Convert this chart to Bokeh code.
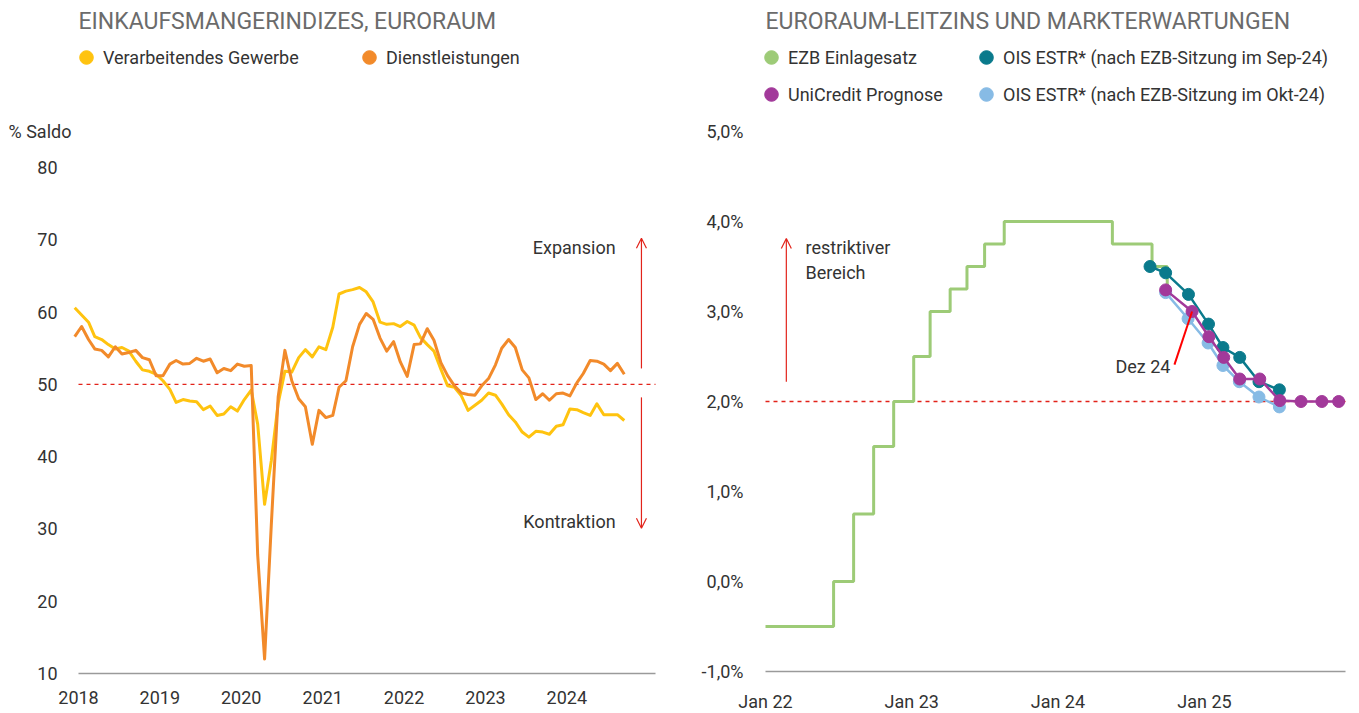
import pandas as pd
from bokeh.plotting import figure
from bokeh.models import (Range1d, FixedTicker, DatetimeTickFormatter, Legend, LegendItem,
                          Label, Arrow, OpenHead)
from bokeh.layouts import row
from bokeh.embed import file_html
from bokeh.resources import INLINE

FONT = "Roboto"
TXT = "#333333"
TITLE_C = "#6b6b6b"
RED = "#E2231A"
YELLOW = "#FFC30F"
ORANGE = "#F28A2A"
GREEN = "#9DCB77"
TEAL = "#0A7A8C"
PURPLE = "#A2399A"
LIGHTBLUE = "#87BBE5"
AXIS_C = "#9a9a9a"

# ---------------- left chart data (monthly PMI, Dec 2017 - Sep 2024) ----------------
pmi_dates = list(pd.date_range("2017-12-01", "2024-09-01", freq="MS") + pd.Timedelta(days=14))
manufacturing = [60.6,
                 59.6, 58.6, 56.6, 56.2, 55.5, 54.9, 55.1, 54.6, 53.2, 52.0, 51.8, 51.4,
                 50.5, 49.3, 47.5, 47.9, 47.7, 47.6, 46.5, 47.0, 45.7, 45.9, 46.9, 46.3,
                 47.9, 49.2, 44.5, 33.4, 39.4, 47.4, 51.8, 51.7, 53.7, 54.8, 53.8, 55.2,
                 54.8, 57.9, 62.5, 62.9, 63.1, 63.4, 62.8, 61.4, 58.6, 58.3, 58.4, 58.0,
                 58.7, 58.2, 56.5, 55.5, 54.6, 52.1, 49.8, 49.6, 48.4, 46.4, 47.1, 47.8,
                 48.8, 48.5, 47.3, 45.8, 44.8, 43.4, 42.7, 43.5, 43.4, 43.1, 44.2, 44.4,
                 46.6, 46.5, 46.1, 45.7, 47.3, 45.8, 45.8, 45.8, 45.0]
services = [56.6,
            58.0, 56.2, 54.9, 54.7, 53.8, 55.2, 54.2, 54.4, 54.7, 53.7, 53.4, 51.2,
            51.2, 52.8, 53.3, 52.8, 52.9, 53.6, 53.2, 53.5, 51.6, 52.2, 51.9, 52.8,
            52.5, 52.6, 26.4, 12.0, 30.5, 48.3, 54.7, 50.5, 48.0, 46.9, 41.7, 46.4,
            45.4, 45.7, 49.6, 50.5, 55.2, 58.3, 59.8, 59.0, 56.4, 54.6, 55.9, 53.1,
            51.1, 55.5, 55.6, 57.7, 56.1, 53.0, 51.2, 49.8, 48.8, 48.6, 48.5, 49.8,
            50.8, 52.7, 55.0, 56.2, 55.1, 52.0, 50.9, 47.9, 48.7, 47.8, 48.7, 48.8,
            48.4, 50.2, 51.5, 53.3, 53.2, 52.8, 51.9, 52.9, 51.4]
left_tick_years = [2018, 2019, 2020, 2021, 2022, 2023, 2024]
left_y_ticks = [10, 20, 30, 40, 50, 60, 70, 80]
left_labels = ["Verarbeitendes Gewerbe", "Dienstleistungen"]

# ---------------- right chart data ----------------
ezb_dates = ["2022-01-01", "2022-06-20", "2022-08-09", "2022-09-28", "2022-11-17",
             "2023-01-06", "2023-02-16", "2023-04-07", "2023-05-19", "2023-07-02",
             "2023-08-20", "2024-05-16", "2024-08-23", "2024-09-30"]
ezb_rate = [-0.5, 0.0, 0.75, 1.5, 2.0, 2.5, 3.0, 3.25, 3.5, 3.75, 4.0, 3.75, 3.5, 3.25]

ois_sep_dates = ["2024-08-18", "2024-09-26", "2024-11-22", "2025-01-11", "2025-02-16",
                 "2025-03-30", "2025-05-17", "2025-07-07"]
ois_sep = [3.50, 3.43, 3.19, 2.86, 2.60, 2.49, 2.22, 2.13]

ois_okt_dates = ["2024-09-26", "2024-11-21", "2025-01-10", "2025-02-16", "2025-03-29",
                 "2025-05-17", "2025-07-07"]
ois_okt = [3.21, 2.92, 2.65, 2.40, 2.22, 2.05, 1.94]

unicredit_dates = ["2024-09-26", "2024-12-01", "2025-01-12", "2025-02-18", "2025-03-30",
                   "2025-05-19", "2025-07-08", "2025-08-30", "2025-10-21", "2025-12-02"]
unicredit = [3.24, 3.00, 2.72, 2.49, 2.25, 2.25, 2.01, 2.0, 2.0, 2.0]

right_x_ticks = ["2022-01-01", "2023-01-01", "2024-01-01", "2025-01-01"]
right_y_ticks = [-1, 0, 1, 2, 3, 4, 5]
right_y_labels = ["-1,0%", "0,0%", "1,0%", "2,0%", "3,0%", "4,0%", "5,0%"]
right_labels = ["EZB Einlagesatz", "UniCredit Prognose",
                "OIS ESTR* (nach EZB-Sitzung im Sep-24)", "OIS ESTR* (nach EZB-Sitzung im Okt-24)"]


def ms(d):
    return pd.Timestamp(d).value / 1e6


def dts(lst):
    return [pd.Timestamp(d) for d in lst]


YEAR_MS = 365.25 * 86400000.0
H = 713


def style(p):
    p.outline_line_color = None
    p.grid.visible = False
    p.background_fill_color = "white"
    p.border_fill_color = "white"
    for ax in (p.xaxis[0], p.yaxis[0]):
        ax.major_tick_line_color = None
        ax.minor_tick_line_color = None
        ax.major_tick_out = 0
        ax.major_tick_in = 0
        ax.minor_tick_out = 0
        ax.minor_tick_in = 0
        ax.axis_line_color = None
        ax.major_label_text_font = FONT
        ax.major_label_text_font_size = "18px"
        ax.major_label_text_color = TXT


def add_legend(p, label, renderer, x, y, standoff):
    leg = Legend(items=[LegendItem(label=label, renderers=[renderer])],
                 location=(x, y), orientation="horizontal",
                 glyph_width=34, glyph_height=34, label_height=20,
                 label_standoff=standoff, padding=0, margin=0, spacing=0,
                 border_line_color=None, background_fill_alpha=0,
                 label_text_font=FONT, label_text_font_size="18px",
                 label_text_color=TXT)
    p.add_layout(leg, "center")


def dot(p, color):
    return p.scatter(x=[float("nan")], y=[float("nan")], size=14, color=color)


# ================= LEFT FIGURE =================
L_PX_YEAR = 81.4
l_mspp = YEAR_MS / L_PX_YEAR
l_origin = ms("2018-01-01")          # 78 px from the left edge
l_end = l_origin + 577 * l_mspp      # end of the drawn axis
L_PX_UNIT = 7.229                    # px per index point
p1 = figure(width=680, height=H, x_axis_type="datetime",
            x_range=Range1d(l_origin - 78 * l_mspp, l_origin + 602 * l_mspp),
            y_range=Range1d(10 - (H - 673) / L_PX_UNIT, 80 + 167 / L_PX_UNIT),
            output_backend="svg", toolbar_location=None,
            min_border_left=0, min_border_right=0, min_border_top=0, min_border_bottom=0)
style(p1)
p1.xaxis.ticker = FixedTicker(ticks=[ms(f"{y}-01-01") for y in left_tick_years])
p1.xaxis.formatter = DatetimeTickFormatter(years="%Y", months="%Y", days="%Y")
p1.xaxis.major_label_standoff = 17
p1.xaxis.fixed_location = 10
p1.yaxis.ticker = FixedTicker(ticks=left_y_ticks)
p1.yaxis.major_label_standoff = 21
p1.yaxis.fixed_location = l_origin

# x-axis baseline and 50-line
p1.segment(x0=[l_origin], y0=[10], x1=[l_end], y1=[10], line_color=AXIS_C, line_width=1.5)
p1.segment(x0=[l_origin], y0=[50], x1=[l_end], y1=[50], line_color=RED,
           line_dash="4 4", line_width=1.3)

p1.line(pmi_dates, manufacturing, color=YELLOW, line_width=3, line_join="round")
p1.line(pmi_dates, services, color=ORANGE, line_width=3, line_join="round")

arrow_x1 = ms("2024-12-01")
p1.add_layout(Arrow(end=OpenHead(size=10, line_color=RED, line_width=1.2),
                    x_start=arrow_x1, y_start=52.2, x_end=arrow_x1, y_end=70.2,
                    line_color=RED, line_width=1.2))
p1.add_layout(Arrow(end=OpenHead(size=10, line_color=RED, line_width=1.2),
                    x_start=arrow_x1, y_start=48.2, x_end=arrow_x1, y_end=30.1,
                    line_color=RED, line_width=1.2))
for txt, yv in (("Expansion", 68.93), ("Kontraktion", 31.03)):
    p1.add_layout(Label(x=ms("2024-08-07"), y=yv, text=txt, text_align="right",
                        text_baseline="middle", text_font=FONT, text_font_size="18px",
                        text_color=TXT))

p1.add_layout(Label(x=l_origin, y=100.2, text="EINKAUFSMANGERINDIZES, EURORAUM",
                    text_baseline="middle", text_font=FONT, text_font_size="23px",
                    text_color=TITLE_C))
p1.add_layout(Label(x=l_origin - 70 * l_mspp, y=84.98, text="% Saldo",
                    text_baseline="middle", text_font=FONT, text_font_size="18px",
                    text_color=TXT))

add_legend(p1, left_labels[0], dot(p1, YELLOW), 69, H - 74, -3)
add_legend(p1, left_labels[1], dot(p1, ORANGE), 352, H - 74, -3)

# ================= RIGHT FIGURE =================
r_origin = ms("2022-01-01")                         # 765 px on the page (85 px into figure)
r_mspp = (ms("2025-01-01") - r_origin) / 439.0
r_end = r_origin + 580 * r_mspp
R_PX_UNIT = 90.0
p2 = figure(width=679, height=H, x_axis_type="datetime",
            x_range=Range1d(r_origin - 85 * r_mspp, r_origin + 594 * r_mspp),
            y_range=Range1d(-1 - (H - 671) / R_PX_UNIT, 5 + 131 / R_PX_UNIT),
            output_backend="svg", toolbar_location=None,
            min_border_left=0, min_border_right=0, min_border_top=0, min_border_bottom=0)
style(p2)
p2.xaxis.ticker = FixedTicker(ticks=[ms(d) for d in right_x_ticks])
p2.xaxis.formatter = DatetimeTickFormatter(years="%b %y", months="%b %y", days="%b %y")
p2.xaxis.major_label_standoff = 19
p2.xaxis.fixed_location = -1.0
p2.yaxis.ticker = FixedTicker(ticks=right_y_ticks)
p2.yaxis.major_label_overrides = {t: l for t, l in zip(right_y_ticks, right_y_labels)}
p2.yaxis.major_label_standoff = 22
p2.yaxis.fixed_location = r_origin

p2.segment(x0=[r_origin], y0=[-1.0], x1=[r_end], y1=[-1.0], line_color=AXIS_C, line_width=1.5)
p2.segment(x0=[r_origin], y0=[2.0], x1=[r_end], y1=[2.0], line_color=RED,
           line_dash="4 4", line_width=1.3)

p2.step(dts(ezb_dates), ezb_rate, mode="after", color=GREEN, line_width=3)
p2.line(dts(ois_okt_dates), ois_okt, color=LIGHTBLUE, line_width=2.5)
p2.scatter(dts(ois_okt_dates), ois_okt, color=LIGHTBLUE, size=12)
p2.line(dts(ois_sep_dates), ois_sep, color=TEAL, line_width=2.5)
p2.scatter(dts(ois_sep_dates), ois_sep, color=TEAL, size=12)
p2.line(dts(unicredit_dates), unicredit, color=PURPLE, line_width=2.5)
p2.scatter(dts(unicredit_dates), unicredit, color=PURPLE, size=12)

p2.segment(x0=[pd.Timestamp("2024-10-18")], y0=[2.41],
           x1=[pd.Timestamp(unicredit_dates[1])], y1=[unicredit[1]],
           line_color="#FF0000", line_width=2)
p2.add_layout(Label(x=ms("2024-10-08"), y=2.39, text="Dez 24", text_align="right",
                    text_baseline="middle", text_font=FONT, text_font_size="18px",
                    text_color=TXT))

arrow_x2 = ms("2022-02-22")
p2.add_layout(Arrow(end=OpenHead(size=10, line_color=RED, line_width=1.2),
                    x_start=arrow_x2, y_start=2.22, x_end=arrow_x2, y_end=3.81,
                    line_color=RED, line_width=1.2))
p2.add_layout(Label(x=ms("2022-04-11"), y=3.711, text="restriktiver", text_baseline="middle",
                    text_font=FONT, text_font_size="18px", text_color=TXT))
p2.add_layout(Label(x=ms("2022-04-11"), y=3.433, text="Bereich", text_baseline="middle",
                    text_font=FONT, text_font_size="18px", text_color=TXT))

p2.add_layout(Label(x=r_origin, y=6.222, text="EURORAUM-LEITZINS UND MARKTERWARTUNGEN",
                    text_baseline="middle", text_font=FONT, text_font_size="23px",
                    text_color=TITLE_C))

add_legend(p2, right_labels[0], dot(p2, GREEN), 74, H - 74, 0)
add_legend(p2, right_labels[1], dot(p2, PURPLE), 74, H - 111, 0)
add_legend(p2, right_labels[2], dot(p2, TEAL), 289, H - 74, 0)
add_legend(p2, right_labels[3], dot(p2, LIGHTBLUE), 289, H - 111, 0)

layout = row(p1, p2)
open("out.html", "w").write(file_html(layout, INLINE))
